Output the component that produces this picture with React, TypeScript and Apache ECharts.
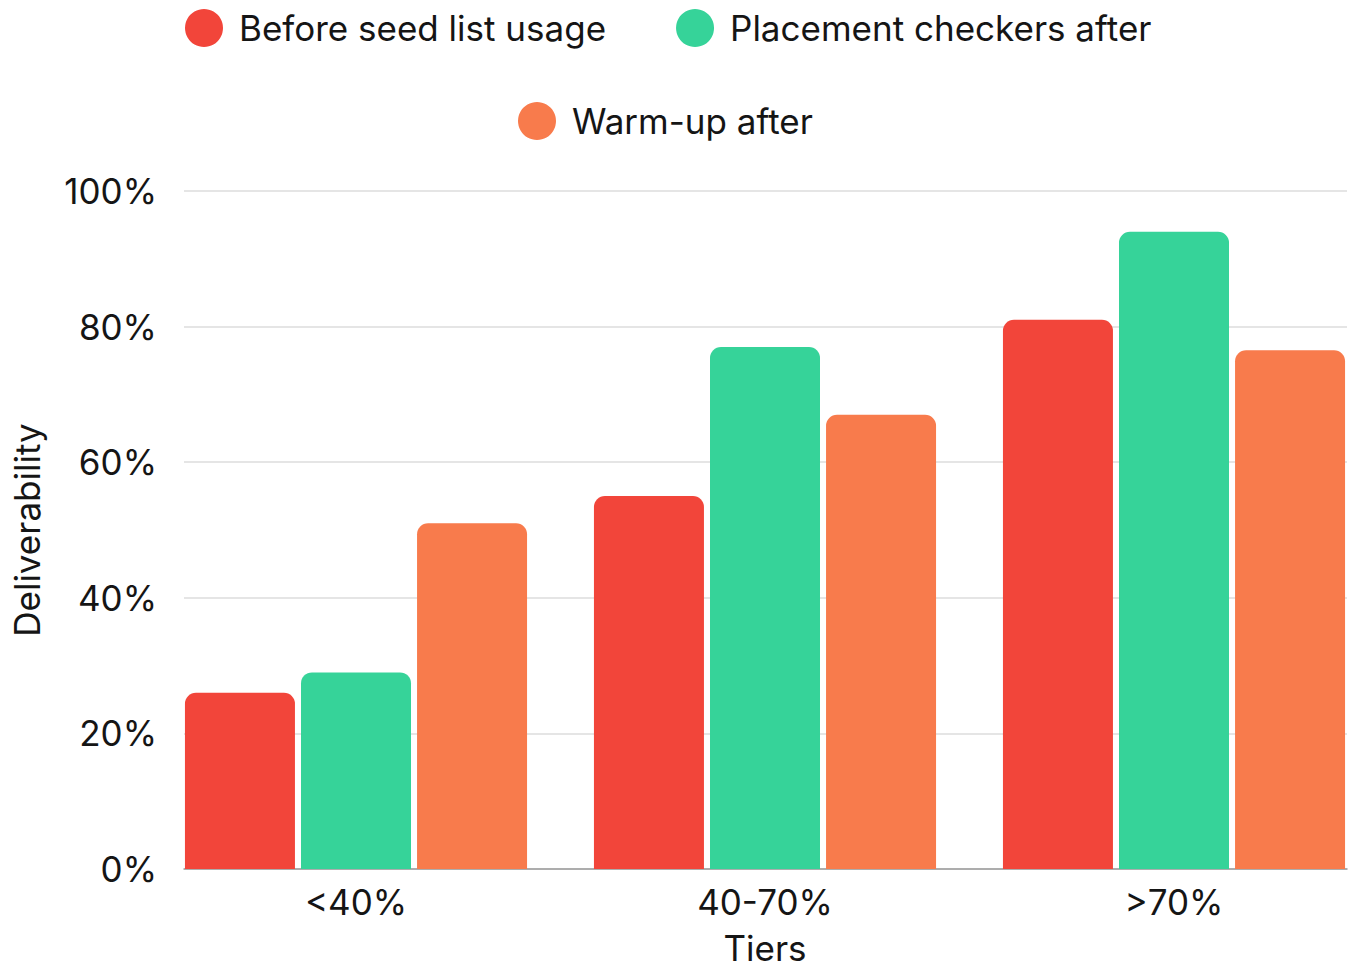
import React, { useEffect, useRef } from "react";
import * as echarts from "echarts";

const categories = ["<40%", "40-70%", ">70%"];
const seriesNames = ["Before seed list usage", "Placement checkers after", "Warm-up after"];
const beforeSeed = [26, 55, 81];
const placementAfter = [29, 77, 94];
const warmupAfter = [51, 67, 76.5];
const yTicks = [0, 20, 40, 60, 80, 100];

const colors = ["#F2453A", "#36D399", "#F87B4C"];
const FONT = "Inter";
const FS = 35;

export default function App() {
  const ref = useRef<HTMLDivElement>(null);
  useEffect(() => {
    const chart = echarts.init(ref.current!, undefined, { renderer: "svg" });
    const values = [beforeSeed, placementAfter, warmupAfter];
    const legendText = { fontSize: FS, color: "#151515", fontFamily: FONT, padding: [0, 0, 0, 11] };
    chart.setOption({
      animation: false,
      backgroundColor: "#ffffff",
      textStyle: { fontFamily: FONT },
      legend: [
        {
          data: [seriesNames[0], seriesNames[1]],
          top: 9,
          left: 185,
          padding: 0,
          icon: "circle",
          itemWidth: 38,
          itemHeight: 38,
          itemGap: 70,
          textStyle: legendText,
        },
        {
          data: [seriesNames[2]],
          top: 102,
          left: 518,
          padding: 0,
          icon: "circle",
          itemWidth: 38,
          itemHeight: 38,
          textStyle: legendText,
        },
      ],
      grid: [
        { left: 151.5, right: -29.5, top: 191, bottom: 102, outerBoundsMode: "none" },
        { left: 184, right: 2, top: 191, bottom: 102, outerBoundsMode: "none" },
      ],
      xAxis: [
        {
          type: "category",
          gridIndex: 0,
          data: categories,
          axisLine: { show: false },
          axisTick: { show: false },
          axisLabel: { fontSize: FS, color: "#151515", margin: 15, fontFamily: FONT },
          name: "Tiers",
          nameLocation: "middle",
          nameGap: 64,
          nameTextStyle: { fontSize: FS, color: "#151515", fontFamily: FONT, lineHeight: 30 },
        },
        {
          type: "value",
          gridIndex: 1,
          min: 0,
          max: 1,
          axisLine: { show: true, lineStyle: { color: "#9a9a9a", width: 1.5 } },
          axisTick: { show: false },
          axisLabel: { show: false },
          splitLine: { show: false },
        },
      ],
      yAxis: [
        { type: "value", gridIndex: 0, min: 0, max: 100, show: false },
        {
          type: "value",
          gridIndex: 1,
          min: 0,
          max: 100,
          interval: 20,
          axisLine: { show: false },
          axisTick: { show: false },
          axisLabel: {
            fontSize: FS,
            color: "#151515",
            margin: 27,
            fontFamily: FONT,
            formatter: (v: number) => (yTicks.includes(v) ? `${v}%` : ""),
          },
          splitLine: { show: true, lineStyle: { color: "#dcdcdc", width: 1.5 } },
          name: "Deliverability",
          nameLocation: "middle",
          nameGap: 140,
          nameTextStyle: { fontSize: FS, color: "#151515", fontFamily: FONT },
        },
      ],
      series: values.map((v, i) => ({
        type: "bar",
        name: seriesNames[i],
        xAxisIndex: 0,
        yAxisIndex: 0,
        data: v,
        barWidth: 110,
        barGap: "5.5%",
        itemStyle: { color: colors[i], borderRadius: [11, 11, 0, 0] },
      })),
    });
    return () => chart.dispose();
  }, []);
  return (
    <div
      ref={ref}
      style={{ position: "fixed", left: 0, top: 0, width: 1349, height: 971 }}
    />
  );
}
